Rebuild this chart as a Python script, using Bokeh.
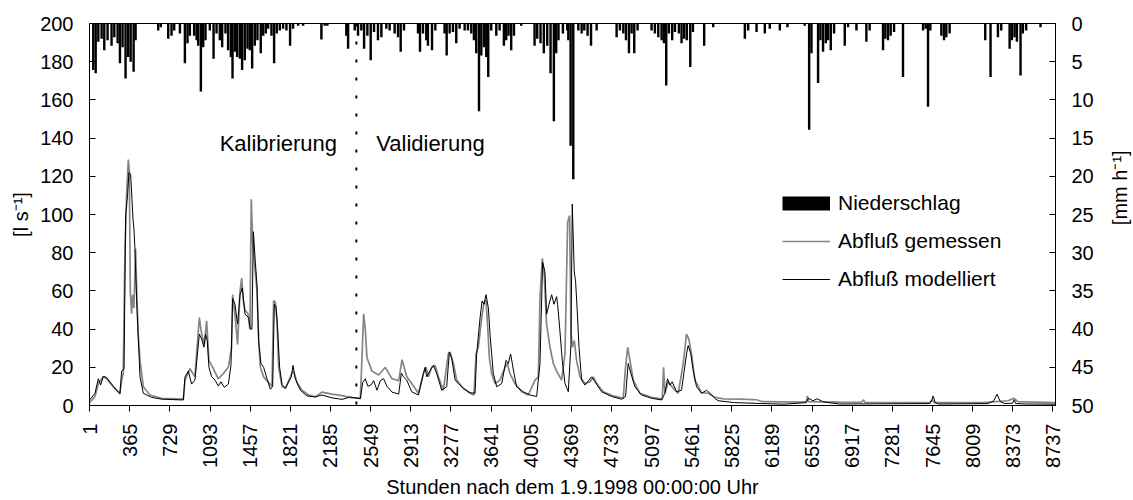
import math

from bokeh.embed import file_html
from bokeh.layouts import row
from bokeh.models import (FixedTicker, Label, Legend, LegendItem, LinearAxis,
                          Range1d, Span)
from bokeh.plotting import figure
from bokeh.resources import INLINE

# --- Abfluß gemessen [l/s] (Stunde, Wert) ---
q_gem_h = [1, 50, 80, 125, 155, 216, 276, 291, 306, 322, 337, 352, 361, 370, 382, 391,
           403, 418, 430, 442, 458, 488, 548, 654, 851, 866, 911, 956, 996, 1017, 1041,
           1062, 1083, 1123, 1168, 1213, 1259, 1289, 1298, 1319, 1343, 1365, 1380, 1395,
           1410, 1437, 1455, 1467, 1480, 1498, 1519, 1534, 1549, 1579, 1625, 1655, 1670,
           1685, 1700, 1715, 1746, 1776, 1836, 1851, 1882, 1927, 1987, 2048, 2108, 2199,
           2290, 2380, 2456, 2471, 2486, 2501, 2516, 2562, 2622, 2683, 2743, 2804, 2834,
           2877, 2922, 2983, 3028, 3052, 3073, 3103, 3134, 3164, 3209, 3254, 3270, 3300,
           3330, 3390, 3451, 3487, 3505, 3526, 3557, 3578, 3596, 3608, 3626, 3647, 3677,
           3722, 3768, 3789, 3813, 3858, 3919, 3979, 4040, 4070, 4085, 4106, 4124, 4145,
           4176, 4206, 4236, 4281, 4312, 4336, 4354, 4366, 4378, 4396, 4417, 4448, 4493,
           4539, 4569, 4599, 4659, 4750, 4840, 4861, 4880, 4901, 4931, 4991, 5097, 5194,
           5206, 5218, 5248, 5293, 5339, 5384, 5414, 5435, 5459, 5490, 5550, 5611, 5671,
           5750, 5900, 6050, 6100, 6450, 6500, 6510, 6520, 6800, 7000, 7020, 7030, 7620,
           7640, 7660, 8100, 8330, 8380, 8420, 8760]
q_gem = [1.5, 4.7, 11.5, 15, 14, 9.8, 6.4, 13, 16.7, 82, 111, 128.8, 123, 60, 48, 58,
         51, 82, 56, 37, 23.6, 9.8, 5.5, 3.8, 3.3, 13.3, 19.3, 15, 46, 37.4, 32,
         44.3, 23.6, 19.3, 14, 16.7, 20, 30.5, 58, 47.8, 32, 59.8, 66.7, 54.7,
         50, 48, 40, 108, 85, 73, 60, 35, 20, 15, 12, 10, 55,
         54, 45, 20, 10, 9, 17, 18, 12, 8, 5.5, 4.5, 7, 6,
         5.2, 4, 4, 25, 48, 40, 25, 18, 16, 20, 14, 13, 24,
         15, 11.5, 6.4, 16.7, 20, 15, 20, 21, 15, 8, 27, 28, 22,
         13.3, 9, 6.4, 5.5, 27, 30.5, 46, 54, 55, 44, 25, 16.7, 11.5,
         13.3, 20, 22, 16.7, 11.5, 7.2, 5.5, 13.3, 15, 56, 77, 68, 42.6,
         30.5, 22, 18, 13.3, 27, 96, 99.5, 39, 30.5, 34, 23.6, 15, 11.5,
         12.4, 15, 11.5, 7.2, 5, 3.8, 20, 30.5, 23.6, 13.3, 6.4, 4.3, 3.3,
         20, 6.4, 12.4, 9, 6.4, 22, 37.4, 34.8, 27, 13.3, 6.7, 6.4, 4.3,
         3.5, 3.3, 3, 2, 1.8, 2, 5, 2, 1.8, 1.7, 3, 1.7, 1.5,
         3, 1.5, 1.5, 2.5, 3.8, 2, 1.5]

# --- Abfluß modelliert [l/s] (Stunde, Wert) ---
q_mod_h = [1, 50, 80, 101, 125, 155, 216, 276, 291, 313, 328, 346, 358, 373, 385, 394,
           403, 412, 427, 442, 458, 488, 563, 654, 851, 866, 896, 926, 956, 996, 1017,
           1038, 1053, 1068, 1083, 1108, 1138, 1168, 1192, 1222, 1259, 1283, 1298, 1319,
           1343, 1365, 1386, 1410, 1443, 1458, 1473, 1486, 1504, 1519, 1534, 1555, 1579,
           1610, 1640, 1661, 1676, 1691, 1706, 1724, 1746, 1776, 1830, 1845, 1866, 1912,
           1972, 2048, 2108, 2199, 2290, 2365, 2456, 2477, 2501, 2525, 2556, 2577, 2607,
           2637, 2667, 2698, 2743, 2804, 2828, 2847, 2877, 2922, 2983, 3028, 3043, 3058,
           3088, 3119, 3149, 3194, 3239, 3263, 3285, 3315, 3345, 3390, 3451, 3496, 3511,
           3542, 3560, 3578, 3596, 3617, 3632, 3662, 3693, 3738, 3777, 3798, 3819, 3850,
           3873, 3934, 3994, 4055, 4085, 4109, 4130, 4145, 4167, 4191, 4212, 4236, 4245,
           4266, 4287, 4312, 4342, 4366, 4378, 4396, 4408, 4423, 4439, 4463, 4493, 4553,
           4584, 4644, 4735, 4825, 4861, 4885, 4910, 4946, 5006, 5097, 5187, 5218, 5242,
           5263, 5284, 5324, 5369, 5414, 5429, 5453, 5474, 5505, 5550, 5596, 5641, 5671,
           5700, 5850, 6100, 6300, 6500, 6520, 6560, 6600, 6650, 6700, 6800, 7620, 7640,
           7650, 7670, 7700, 8150, 8200, 8230, 8260, 8300, 8370, 8385, 8400, 8500, 8760]
q_mod = [2.9, 6.4, 14, 10.7, 15.3, 14.7, 10, 6, 18, 19, 99.5, 111, 122, 121, 108, 97.8,
         92.6, 82, 56, 35.7, 15, 6.4, 4.3, 3.3, 2.9, 15, 18, 11.2, 13.3, 37.4, 34.8,
         30.5, 37.4, 34, 20, 15, 13.3, 10.2, 12.4, 9.5, 11.2, 21, 56, 53,
         42.6, 58, 61.6, 47.8, 46, 40, 40, 91, 75, 63, 33, 22, 20,
         14, 8.5, 10, 53, 52, 40, 20, 11, 9, 15, 21, 14, 8,
         5, 4.5, 5.5, 4, 3.2, 4.5, 3.5, 12, 14, 10, 11, 13, 8,
         13, 14, 10, 7, 6, 17, 15, 13.3, 7.2, 5.5, 16.7, 20, 15,
         18.4, 21, 16.7, 8, 9.8, 28, 24.5, 13.3, 11.5, 9, 6.7, 6.4, 27,
         46, 54.7, 53, 58, 51, 37.4, 16.7, 9.8, 11.5, 23.6, 22, 27, 16.7,
         9.8, 7.2, 5.5, 4.7, 22, 75, 70, 47.8, 53, 58, 53, 57, 53,
         39, 23.6, 11.5, 7.2, 32, 105.5, 70, 65, 49.5, 30.5, 13.3, 10.7, 15,
         12.4, 7.2, 4.7, 3.3, 4.7, 22, 16.7, 9.8, 5.5, 3.8, 2.9, 6.4, 14,
         10.7, 12.4, 7.2, 8, 27, 31.4, 27, 18.4, 9.8, 6.4, 8, 5.5, 3.8,
         2.5, 1.5, 1, 0.7, 1.5, 3.8, 2.5, 3.5, 2, 1.5, 0.8, 1, 3,
         5, 1.5, 0.8, 1, 2.5, 5.9, 2, 1, 1.2, 3, 1, 0.8, 0.7]

# --- Niederschlag [mm/h] (Stunde, Wert) ---
p_h = [34, 56, 80, 110, 134, 164, 200, 225, 255, 276, 300, 327, 351, 373, 400, 418,
       623, 647, 714, 744, 768, 820, 865, 889, 910, 949, 971, 986, 1010, 1031, 1052,
       1091, 1125, 1152, 1182, 1203, 1233, 1257, 1282, 1297, 1318, 1339, 1363, 1384,
       1408, 1433, 1454, 1475, 1499, 1523, 1553, 1575, 1599, 1620, 1650, 1674, 1698,
       1726, 1756, 1786, 1819, 1846, 1892, 1937, 2103, 2133, 2157, 2329, 2345, 2405,
       2435, 2465, 2490, 2520, 2550, 2580, 2616, 2647, 2692, 2722, 2767, 2798, 2822,
       2852, 2979, 2997, 3024, 3054, 3069, 3106, 3136, 3220, 3239, 3266, 3296, 3326,
       3356, 3402, 3432, 3462, 3486, 3507, 3532, 3553, 3577, 3598, 3616, 3643, 3689,
       3719, 3758, 3779, 3800, 3824, 3849, 3915, 4036, 4060, 4090, 4120, 4151, 4181,
       4211, 4232, 4253, 4293, 4332, 4342, 4363, 4387, 4433, 4463, 4487, 4517, 4548,
       4599, 4780, 4810, 4841, 4865, 4892, 4916, 4940, 4970, 5097, 5127, 5158, 5188,
       5209, 5230, 5254, 5284, 5309, 5345, 5369, 5393, 5417, 5448, 5472, 5574, 5656,
       5943, 5973, 6049, 6124, 6169, 6260, 6329, 6486, 6526, 6547, 6607, 6628, 6652,
       6677, 6698, 6722, 6752, 6849, 6879, 6955, 7045, 7075, 7196, 7217, 7241, 7265,
       7296, 7377, 7559, 7583, 7604, 7625, 7725, 7749, 7770, 7800, 8123, 8171, 8238,
       8268, 8344, 8365, 8389, 8410, 8443, 8464, 8494, 8624]
p_mm = [6.1, 6.5, 2.4, 2.0, 3.5, 2.2, 2.9, 1.8, 2.6, 5.2, 3.1, 7.2, 4.4, 5.0, 6.3, 2.2,
        0.9, 0.5, 2.0, 1.6, 0.9, 1.3, 5.2, 2.6, 1.6, 1.6, 2.2, 2.9, 8.9, 3.1, 2.2,
        0.9, 4.6, 1.3, 2.2, 3.1, 1.3, 3.5, 4.4, 7.2, 3.7, 4.4, 4.6, 6.1,
        4.8, 3.3, 3.5, 5.9, 2.9, 2.2, 3.9, 1.6, 1.3, 0.7, 1.6, 5.2, 1.3,
        0.9, 0.7, 0.9, 2.9, 0.7, 0.3, 0.3, 2.1, 0.3, 0.3, 1.6, 3.3, 0.9,
        1.6, 0.9, 3.3, 1.6, 4.8, 1.1, 2.2, 1.8, 0.7, 0.9, 1.3, 1.8, 3.7,
        0.9, 1.3, 3.7, 1.3, 2.2, 2.9, 3.5, 0.9, 1.3, 4.2, 1.3, 1.1, 2.6,
        0.7, 0.9, 0.9, 1.3, 2.2, 3.9, 11.5, 4.2, 3.1, 4.4, 7.0, 0.9, 1.6,
        0.9, 2.9, 2.2, 1.6, 3.5, 1.6, 0.3, 2.9, 2.0, 2.6, 3.9, 2.9, 6.5,
        12.8, 3.9, 2.2, 1.3, 0.9, 2.2, 16.0, 20.4, 0.9, 1.3, 0.9, 1.6, 2.9,
        0.9, 1.8, 0.9, 1.3, 2.2, 3.9, 1.3, 3.9, 0.9, 0.9, 1.3, 1.8, 2.2,
        2.6, 8.1, 1.3, 2.2, 1.1, 1.3, 2.6, 2.0, 2.2, 5.7, 1.1, 2.9, 0.5,
        2.0, 0.9, 1.1, 1.3, 0.7, 0.9, 0.5, 0.3, 13.9, 3.9, 7.8, 2.2, 3.7,
        2.6, 2.2, 3.5, 1.3, 2.9, 0.5, 0.9, 2.4, 0.9, 3.5, 2.0, 2.2, 1.6,
        1.1, 7.0, 0.9, 0.7, 10.9, 0.9, 1.6, 2.2, 1.8, 1.3, 2.2, 7.0, 1.8,
        0.9, 3.3, 2.2, 1.8, 2.4, 6.8, 1.3, 0.9, 0.5]

x_ticks = list(range(1, 8738, 364))
q_ticks = list(range(0, 201, 20))
p_ticks = list(range(0, 51, 5))
split_hour = 2420  # Ende der Kalibrierungsperiode

FONT = "Liberation Sans"
TICK_SIZE = "20px"
TEXT_SIZE = "21px"

p = figure(width=1108, height=500, output_backend="svg", toolbar_location=None,
           x_range=Range1d(0, 8760), y_range=Range1d(0, 200),
           min_border_left=89, min_border_right=53, min_border_top=23,
           min_border_bottom=92, background_fill_color="white",
           border_fill_color="white")
p.extra_y_ranges = {"precip": Range1d(50, 0)}
p.xgrid.visible = False
p.ygrid.visible = False
p.outline_line_color = "black"
p.outline_line_width = 1


def style_axis(ax):
    ax.axis_line_color = "black"
    ax.major_tick_line_color = "black"
    ax.minor_tick_line_color = None
    ax.major_label_text_font = FONT
    ax.major_label_text_font_size = TICK_SIZE
    ax.major_label_text_color = "black"
    ax.axis_label_text_font = FONT
    ax.axis_label_text_font_size = TICK_SIZE
    ax.axis_label_text_font_style = "normal"
    ax.axis_label_text_color = "black"


xa = p.xaxis[0]
style_axis(xa)
xa.ticker = FixedTicker(ticks=x_ticks)
xa.major_label_orientation = math.pi / 2
xa.major_tick_in = 0
xa.major_tick_out = 6
xa.major_label_standoff = 12
xa.axis_label = "Stunden nach dem 1.9.1998 00:00:00 Uhr"
xa.axis_label_standoff = 5

ya = p.yaxis[0]
style_axis(ya)
ya.ticker = FixedTicker(ticks=q_ticks)
ya.major_tick_in = 6
ya.major_tick_out = 0
ya.major_label_standoff = 16
ya.axis_label = "[l s\u207b\u00b9]"
ya.axis_label_standoff = 5

# rechte Achse: Niederschlag
yr = LinearAxis(y_range_name="precip")
style_axis(yr)
yr.ticker = FixedTicker(ticks=p_ticks)
yr.major_tick_in = 6
yr.major_tick_out = 0
yr.major_label_standoff = 16
p.add_layout(yr, "right")

# Niederschlagsbalken von oben
bars = p.vbar(x=p_h, top=0, bottom=p_mm, width=22, y_range_name="precip",
              fill_color="black", line_color=None)

# Abflussganglinien
l_gem = p.line(q_gem_h, q_gem, line_color="#858585", line_width=1.7)
l_mod = p.line(q_mod_h, q_mod, line_color="black", line_width=1)

# Trennlinie Kalibrierung / Validierung
p.add_layout(Span(location=split_hour, dimension="height", line_color="black",
                  line_width=2, line_dash="3 15"))

p.add_layout(Label(x=split_hour - 175, y=137, text="Kalibrierung",
                   text_align="right", text_baseline="middle",
                   text_font=FONT, text_font_size="22px", text_color="black"))
p.add_layout(Label(x=split_hour + 180, y=137, text="Validierung",
                   text_align="left", text_baseline="middle",
                   text_font=FONT, text_font_size="22px", text_color="black"))

# Legendensymbol für den Niederschlag als breiter Balken (ohne sichtbare Daten)
swatch = p.line(x=[float("nan")], y=[float("nan")], line_color="black",
                line_width=14)

legend = Legend(items=[LegendItem(label="Niederschlag", renderers=[swatch]),
                       LegendItem(label="Abfluß gemessen", renderers=[l_gem]),
                       LegendItem(label="Abfluß modelliert", renderers=[l_mod])],
                location=(693, 114), orientation="vertical",
                glyph_width=48, glyph_height=24, label_height=24,
                label_standoff=8, spacing=14, padding=0, margin=0,
                border_line_color=None, background_fill_alpha=0,
                label_text_font=FONT, label_text_font_size=TEXT_SIZE,
                label_text_color="black")
p.add_layout(legend)

# schmaler Streifen rechts für die Einheit der Niederschlagsachse,
# von unten nach oben zu lesen
unit = figure(width=25, height=500, output_backend="svg", toolbar_location=None,
              x_range=Range1d(0, 25), y_range=Range1d(0, 500),
              x_axis_type=None, y_axis_type=None, min_border=0,
              background_fill_color="white", border_fill_color="white")
unit.outline_line_color = None
unit.add_layout(Label(x=11, y=285, text="[mm h\u207b\u00b9]", angle=math.pi / 2,
                      text_align="center", text_baseline="middle",
                      text_font=FONT, text_font_size=TICK_SIZE,
                      text_color="black"))

layout = row(p, unit, spacing=0)

open("out.html", "w").write(file_html(layout, INLINE))
